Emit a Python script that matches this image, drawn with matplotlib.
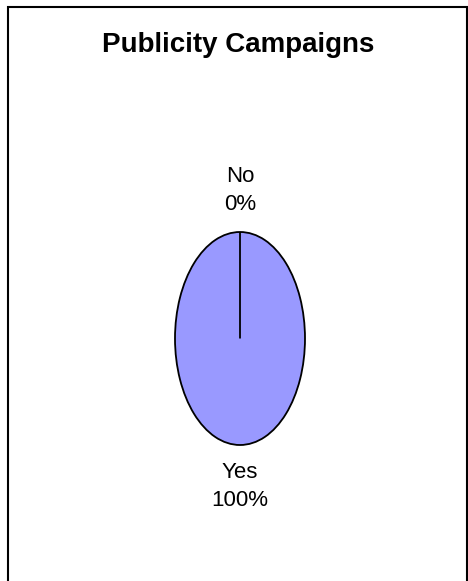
import matplotlib
matplotlib.use("Agg")
import matplotlib.pyplot as plt
from matplotlib.patches import Rectangle

plt.rcParams['font.family'] = ['Liberation Sans', 'DejaVu Sans']

title = "Publicity Campaigns"
categories = ["No", "Yes"]
values = [0, 100]
colors = ["#9999FF", "#9999FF"]

W, H = 468, 581
fig = plt.figure(figsize=(W / 100, H / 100), dpi=100)

# outer chart border (no bottom edge visible)
fig.patches.append(Rectangle((8 / W, -0.05), (467 - 8) / W, 1.05 - 7 / H,
                             transform=fig.transFigure, fill=False,
                             edgecolor="black", linewidth=1.5))

fig.text(238 / W, 1 - 45 / H, title, ha="center", va="center",
         fontsize=20, fontweight="bold")

ax = fig.add_axes([175 / W, 1 - 445 / H, 130 / W, 213 / H])
total = sum(values)
labels = [f"{c}\n{round(v / total * 100)}%" for c, v in zip(categories, values)]
wedges, texts = ax.pie(values, labels=labels, colors=colors, startangle=90,
                       counterclock=False, labeldistance=1.39,
                       wedgeprops=dict(edgecolor="black", linewidth=1.3),
                       textprops=dict(fontsize=16, linespacing=1.38))
# zero-size slice shows as a radial line; draw it above the full slice
for w, v in zip(wedges, values):
    if v == 0:
        w.set_zorder(5)
for t in texts:
    t.set_ha("center")
    t.set_va("center")
ax.set_aspect("auto")
ax.set_xlim(-1, 1)
ax.set_ylim(-1, 1)
ax.axis("off")

fig.savefig("out.png", dpi=100)
